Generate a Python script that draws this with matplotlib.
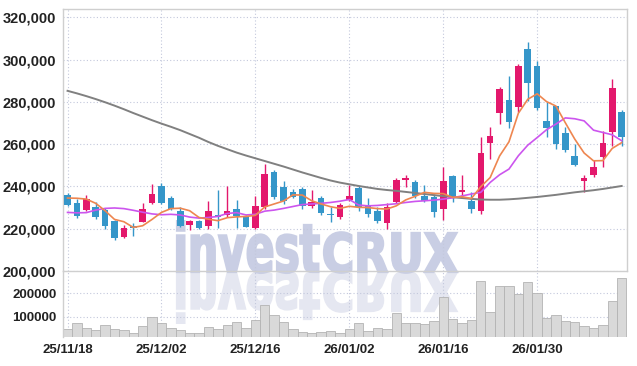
import numpy as np
import matplotlib
matplotlib.use("Agg")
import matplotlib.pyplot as plt
from matplotlib import font_manager
from matplotlib.ticker import FuncFormatter
from matplotlib.textpath import TextPath
from matplotlib.patches import PathPatch
from matplotlib.font_manager import FontProperties
from matplotlib.transforms import Affine2D, IdentityTransform

# daily candles, thousands of won
opens = [236.1, 232.1, 229.0, 230.1, 229.0, 223.6, 215.9, 221.1, 223.3, 232.0,
         240.0, 234.5, 228.2, 221.9, 223.8, 221.4, 226.6, 226.6, 229.3, 225.8,
         220.3, 230.1, 246.9, 239.8, 237.2, 238.7, 230.9, 234.5, 226.6, 225.4,
         233.7, 239.2, 231.2, 228.5, 222.7, 232.8, 243.0, 242.2, 235.6, 235.1,
         229.3, 245.0, 237.2, 233.2, 228.5, 260.3, 274.5, 280.8, 277.6, 304.9,
         297.0, 271.0, 278.1, 265.2, 254.5, 242.7, 245.5, 254.0, 265.5, 275.0]
highs = [236.9, 234.0, 235.9, 232.7, 229.8, 224.1, 221.7, 222.7, 232.1, 241.1,
         241.4, 235.6, 230.1, 224.1, 224.1, 233.2, 238.4, 240.0, 233.7, 226.5,
         235.6, 250.6, 247.7, 242.7, 238.7, 239.7, 238.3, 235.4, 230.2, 232.1,
         240.6, 240.2, 234.5, 230.2, 232.1, 243.9, 245.4, 243.2, 240.6, 236.3,
         249.3, 245.5, 245.4, 237.5, 263.6, 267.9, 286.8, 292.0, 298.1, 308.5,
         299.4, 279.7, 278.1, 267.9, 260.0, 245.5, 252.4, 266.0, 291.0, 276.1]
lows = [230.7, 225.0, 228.4, 224.6, 219.9, 214.8, 215.6, 216.7, 223.2, 231.7,
        231.7, 228.8, 220.8, 219.5, 219.9, 219.9, 220.3, 225.4, 220.2, 220.6,
        219.9, 229.3, 234.0, 231.7, 234.5, 229.3, 229.8, 226.5, 223.2, 224.6,
        233.1, 228.4, 225.5, 222.7, 219.9, 232.1, 239.7, 234.5, 232.5, 225.4,
        224.1, 232.5, 234.8, 227.3, 226.9, 252.9, 269.5, 267.4, 275.0, 280.5,
        276.0, 263.5, 257.6, 256.1, 249.8, 237.5, 244.3, 249.0, 259.2, 259.2]
closes = [231.3, 225.8, 234.0, 225.4, 221.4, 215.6, 220.3, 220.3, 229.3, 236.4,
          232.1, 229.3, 221.4, 223.5, 220.2, 228.2, 225.7, 228.2, 225.8, 220.9,
          230.9, 245.8, 235.0, 233.0, 235.1, 230.6, 232.5, 227.3, 226.5, 231.2,
          235.3, 230.1, 226.9, 223.8, 230.4, 243.0, 243.8, 235.6, 233.2, 228.0,
          242.4, 234.8, 238.3, 229.3, 255.8, 263.9, 286.0, 270.5, 297.0, 288.7,
          276.9, 267.6, 260.0, 257.3, 250.2, 244.0, 249.0, 260.5, 286.5, 263.6]
volumes = [47000, 71500, 50000, 41500, 63000, 46000, 41500, 28500, 58500, 97000,
           71500, 50000, 41500, 28500, 28500, 54500, 46000, 63000, 76000, 50000,
           84500, 149000, 106000, 76000, 46000, 33000, 28500, 33000, 38500, 28500,
           46000, 71500, 38500, 50000, 46000, 114500, 71500, 71500, 67000, 80000,
           183000, 89000, 71500, 84500, 254500, 119000, 230000, 230000, 197500, 250000,
           200500, 93000, 106000, 80000, 76000, 58500, 50000, 63000, 166000, 265000]
ma5 = [234.5, 234.4, 234.0, 232.0, 228.5, 224.4, 223.3, 220.6, 221.4, 224.4,
       227.7, 229.5, 229.7, 228.5, 225.3, 224.5, 223.8, 225.2, 225.6, 225.8,
       226.3, 230.3, 231.7, 233.1, 236.0, 235.9, 233.2, 231.7, 230.4, 229.6,
       230.6, 230.1, 230.0, 229.5, 229.3, 230.8, 233.6, 235.3, 237.2, 236.7,
       236.6, 234.8, 235.1, 234.3, 239.9, 244.2, 254.4, 261.1, 274.6, 281.2,
       283.8, 280.1, 278.0, 270.1, 262.4, 255.8, 252.1, 252.2, 258.0, 260.7]
ma20 = [227.7, 227.5, 227.6, 228.8, 229.6, 229.8, 229.5, 228.7, 227.8, 227.0,
        226.6, 226.8, 226.5, 225.5, 225.0, 225.3, 225.8, 227.2, 227.6, 226.5,
        226.8, 228.3, 228.8, 229.6, 230.5, 231.4, 231.7, 232.0, 232.4, 233.0,
        233.8, 231.2, 230.8, 231.0, 231.4, 231.8, 232.4, 232.9, 233.2, 233.5,
        234.0, 234.6, 235.5, 236.4, 237.2, 241.9, 245.5, 248.2, 254.5, 259.5,
        263.1, 266.8, 269.5, 272.4, 272.0, 271.0, 266.6, 265.5, 264.4, 261.6]
ma120 = [285.2, 284.0, 282.7, 281.3, 279.8, 278.2, 276.5, 274.7, 273.0, 271.3,
         269.7, 268.2, 266.6, 264.8, 263.0, 261.0, 259.2, 257.6, 256.0, 254.6,
         253.3, 252.0, 250.7, 249.4, 248.0, 246.6, 245.3, 244.0, 242.8, 241.8,
         241.0, 240.2, 239.5, 238.8, 238.3, 237.9, 237.4, 236.9, 236.4, 235.9,
         235.4, 234.9, 234.5, 234.1, 233.8, 233.7, 233.7, 233.9, 234.2, 234.6,
         235.0, 235.5, 236.0, 236.6, 237.2, 237.7, 238.2, 238.8, 239.5, 240.2]
tick_idx = [0, 10, 20, 30, 40, 50]
tick_labels = ["25/11/18", "25/12/02", "25/12/16", "26/01/02", "26/01/16", "26/01/30"]

o = np.array(opens) * 1000
h = np.array(highs) * 1000
l = np.array(lows) * 1000
c = np.array(closes) * 1000
x = np.arange(len(o))

UP = "#e3186c"
DOWN = "#3596c9"
GRID = "#c3c8dc"
FRAME = "#cfcfcf"

names = {f.name for f in font_manager.fontManager.ttflist}
narrow = "Liberation Sans Narrow" if "Liberation Sans Narrow" in names else "Liberation Sans"

fig = plt.figure(figsize=(6.37, 3.66), dpi=100)
fig.patch.set_facecolor("white")
ax = fig.add_axes([0.0994, 0.2596, 0.8854, 0.7158])
axv = fig.add_axes([0.0994, 0.0784, 0.8854, 0.1812], sharex=ax)
for a in (ax, axv):
    a.set_facecolor("none")
    a.set_axisbelow(True)
    a.grid(True, color=GRID, linestyle=(0, (1, 2)), linewidth=0.8)
    a.tick_params(length=0, colors="#222222")
    for s in a.spines.values():
        s.set_color(FRAME)
        s.set_linewidth(1.0)

# candles
cols = [UP if cc >= oo else DOWN for oo, cc in zip(o, c)]
ax.vlines(x, l, h, colors=cols, linewidth=1.0, zorder=2)
body = np.abs(c - o)
body = np.where(body < 400, 400, body)
ax.bar(x, body, bottom=np.minimum(o, c), width=0.7, color=cols, zorder=3)

# moving averages
ax.plot(x, np.array(ma120) * 1000, color="#808080", linewidth=1.4, zorder=4)
ax.plot(x, np.array(ma20) * 1000, color="#cc55ee", linewidth=1.2, zorder=4)
ax.plot(x, np.array(ma5) * 1000, color="#ee8650", linewidth=1.2, zorder=4)

ax.set_ylim(200000, 323900)
ax.set_yticks(np.arange(200000, 320001, 20000))
ax.yaxis.set_major_formatter(FuncFormatter(lambda v, p: f"{int(v):,}"))
ax.set_xlim(-0.45, 59.6)
ax.set_xticks(tick_idx)
ax.tick_params(axis="x", labelbottom=False)
for t in ax.get_yticklabels():
    t.set_fontfamily(narrow)
    t.set_fontweight("bold")
    t.set_fontsize(10.5)
ax.tick_params(axis="y", pad=5)

# volume
axv.bar(x, volumes, width=1.0, color="#d9d9d9", edgecolor="#b3b3b3", linewidth=0.6, zorder=2)
axv.set_ylim(12000, 295300)
axv.set_yticks([100000, 200000])
axv.set_yticklabels(["100000", "200000"], fontfamily="Liberation Sans", fontweight="bold", fontsize=9.5)
axv.set_xticks(tick_idx)
axv.set_xticklabels(tick_labels, fontfamily=narrow, fontweight="bold", fontsize=9.5)
axv.tick_params(axis="x", pad=5)
axv.tick_params(axis="y", pad=5)
axv.spines["bottom"].set_visible(False)
axv.spines["right"].set_visible(False)
axv.spines["top"].set_visible(False)

# watermark with reflection (pixel coordinates)
H = 366
prop = FontProperties(family="DejaVu Sans", weight="bold")


def logo_part(text, x0, x1, height, ref_glyph):
    p = TextPath((0, 0), text, size=100, prop=prop)
    ext = p.get_extents()
    gh = TextPath((0, 0), ref_glyph, size=100, prop=prop).get_extents().height
    sx = (x1 - x0) / ext.width
    sy = height / gh
    base = H - 272
    for sign, colr, z in ((1, "#c9cee4", -2), (-1, "#e5e7f1", -3)):
        tr = Affine2D().translate(-ext.x0, 0).scale(sx, sign * sy).translate(x0, base)
        patch = PathPatch(tr.transform_path(p), facecolor=colr, edgecolor=colr,
                          linewidth=1.6, transform=IdentityTransform(), zorder=z)
        fig.add_artist(patch)


logo_part("invest", 177, 319, 37.5, "n")
logo_part("CRUX", 324, 457, 40.5, "C")

fig.savefig("out.png", dpi=100)
